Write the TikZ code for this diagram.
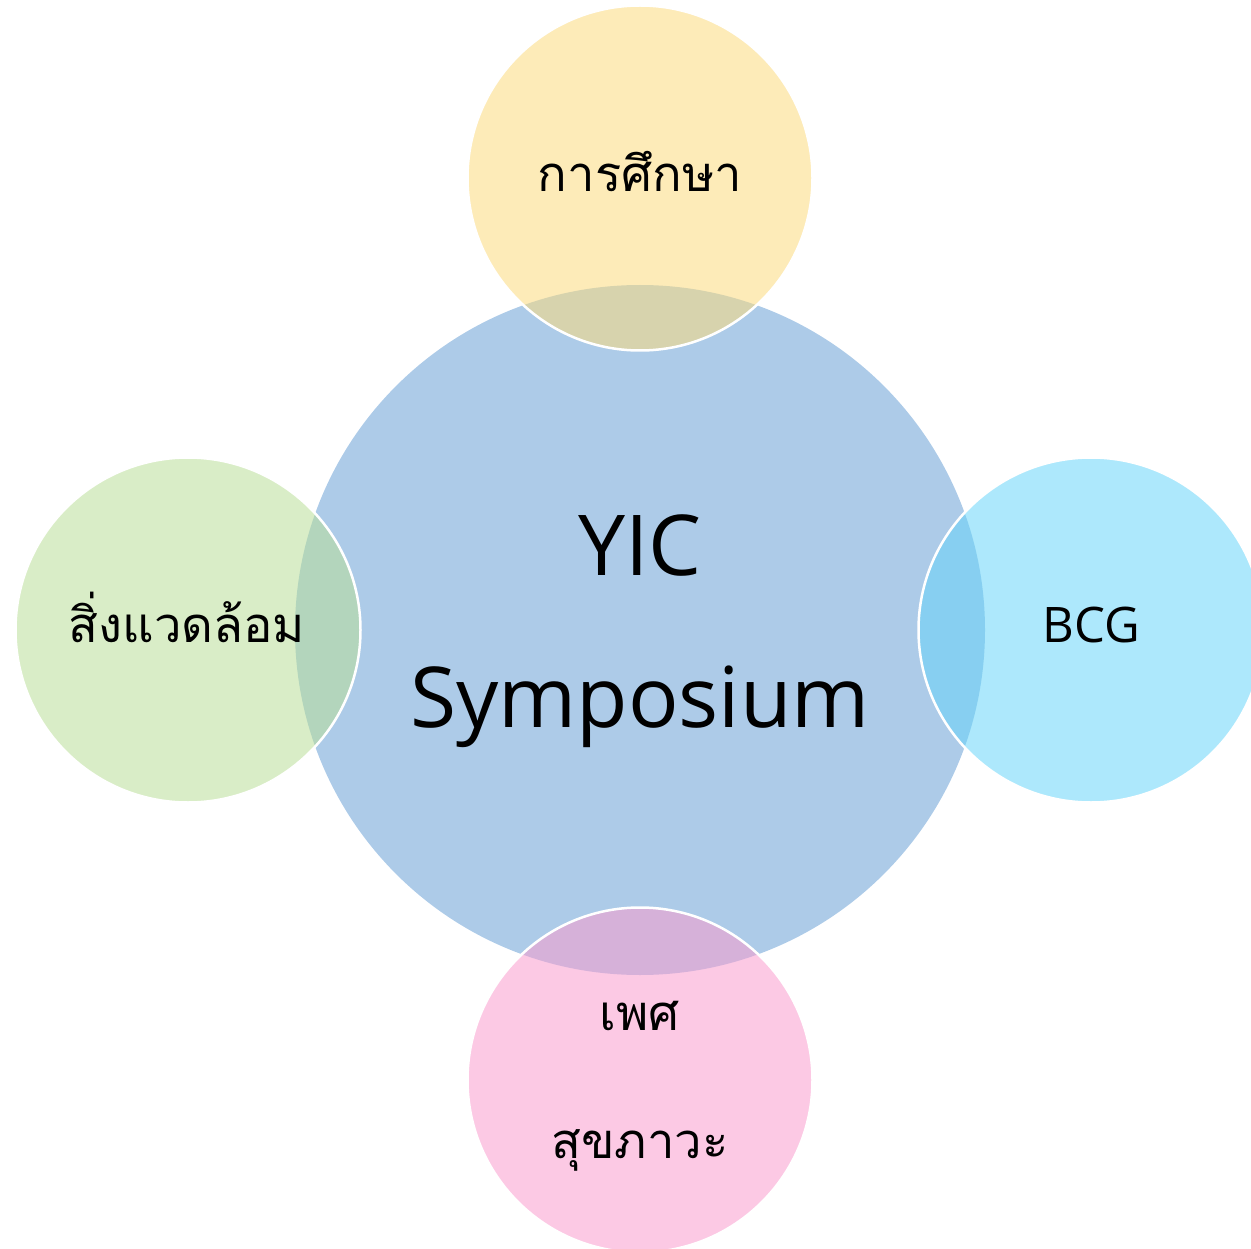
\documentclass[tikz,border=0pt]{standalone}
\usepackage{fontspec}
\newfontfamily\thaifont[Script=Thai]{Loma}
\newfontfamily\latinfont{Open Sans}
\definecolor{cblue}{RGB}{173,203,232}
\definecolor{cyellow}{RGB}{251,218,124}
\definecolor{cgreen}{RGB}{185,222,151}
\definecolor{ccyan}{RGB}{103,212,249}
\definecolor{cpink}{RGB}{249,155,205}
\begin{document}
\begin{tikzpicture}[x=1pt,y=-1pt,
  hub/.style={circle, minimum size=690pt, inner sep=0pt, fill=cblue},
  sat/.style={circle, minimum size=345pt, inner sep=0pt, draw=white, line width=2.5pt, fill opacity=0.54, draw opacity=1},
  thailabel/.style={anchor=base, font=\thaifont\fontsize{49}{60}\selectfont, inner sep=0pt},
  latlabel/.style={anchor=base, font=\latinfont\fontsize{49}{60}\selectfont, inner sep=0pt},
  biglabel/.style={anchor=base, font=\latinfont\fontsize{84}{100}\selectfont, inner sep=0pt}]
\useasboundingbox (0,0) rectangle (1251,1249);
\clip (0,0) rectangle (1251,1249);
\node[hub] (hub) at (640,630) {};
\node[sat, fill=cyellow] (top) at (640,178) {};
\node[sat, fill=cgreen] (left) at (188,630) {};
\node[sat, fill=ccyan] (right) at (1091,630) {};
\node[sat, fill=cpink] (bottom) at (640,1080) {};
\node[biglabel] (yic) at (640,575) {YIC};
\node[biglabel] (symp) at (640,727) {Symposium};
\node[thailabel] (edu) at (640,192) {การศึกษา};
\node[thailabel] (env) at (187,642) {สิ่งแวดล้อม};
\node[latlabel] (bcg) at (1091,642) {BCG};
\node[thailabel] (sex) at (640,1030) {เพศ};
\node[thailabel] (health) at (640,1158) {สุขภาวะ};
\end{tikzpicture}
\end{document}
